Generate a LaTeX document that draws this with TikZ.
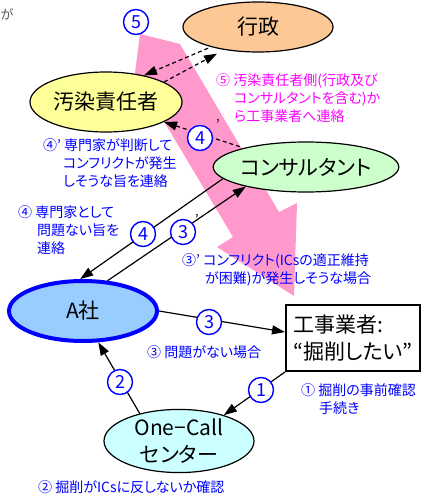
\documentclass[tikz,border=0pt]{standalone}
\usepackage{fontspec}
\setmainfont[RawFeature=+palt]{Noto Sans CJK JP}
\usetikzlibrary{shapes.geometric,arrows.meta}
\definecolor{bandpink}{HTML}{FF99CC}
\definecolor{govfill}{HTML}{FCC896}
\definecolor{polfill}{HTML}{FFFF99}
\definecolor{confill}{HTML}{CCFFCC}
\definecolor{afill}{HTML}{99CCFF}
\definecolor{ocfill}{HTML}{CCFFFF}
\definecolor{lblue}{HTML}{0000FF}
\definecolor{lmag}{HTML}{FF00FF}
\tikzset{
  ell/.style={ellipse, draw=black, line width=1.2pt, inner sep=0pt, font=\fontsize{21}{27}\selectfont, align=center},
  numc/.style={circle, draw=lblue, line width=1.4pt, fill=white, text=lblue, inner sep=0pt, minimum size=25pt, font=\fontsize{18}{18}\selectfont},
  primek/.style={inner sep=0pt, font=\fontsize{13}{13}\selectfont, text=black},
  lbl/.style={anchor=north west, inner sep=0pt, text=lblue, align=left, font=\fontsize{14}{18}\selectfont},
  conn/.style={line width=1.2pt, -{Triangle[length=13pt,width=9pt]}},
  dconn/.style={conn, dash pattern=on 4pt off 3pt}
}
\begin{document}
\begin{tikzpicture}[x=1pt,y=-1pt]
\useasboundingbox (0,0) rectangle (422,497);
% pink band arrow
\fill[bandpink] (140,34) -- (180,44) -- (279,212) -- (297,203) -- (294,296) -- (217,247) -- (233,237) -- (135,73) -- cycle;
% partial text at top-left
\node[anchor=west, inner sep=0pt, text=black!65, font=\fontsize{13}{13}\selectfont] (ga) at (0.5,14) {が};
% main nodes
\node[ell, fill=govfill, minimum width=150pt, minimum height=50pt] (gyosei) at (258,27) {行政};
\node[ell, fill=polfill, minimum width=152pt, minimum height=60pt] (osen) at (106,102) {汚染責任者};
\node[ell, fill=confill, minimum width=149pt, minimum height=50pt] (consul) at (306,167) {コンサルタント};
\node[ell, draw=lblue, line width=4pt, fill=afill, minimum width=148pt, minimum height=60pt] (asha) at (83,311) {A社};
\node[ell, fill=ocfill, minimum width=150pt, minimum height=58pt] (onecall) at (179,441) {One−Call\\センター};
\node[draw=black, line width=2pt, fill=white, minimum width=134pt, minimum height=66pt, inner sep=0pt, align=left, font=\fontsize{21}{27}\selectfont] (koji) at (353,338) {工事業者:\\“掘削したい”};
% connectors
\draw[dconn, shorten <=3pt] (gyosei.203) -- (osen.35);
\draw[dconn, shorten >=8pt] (osen.19) -- (gyosei.214);
\draw[dconn, shorten <=4pt] (consul.163) -- (osen.341);
\draw[conn] (consul.188) -- (asha.95);
\draw[conn] (asha.51) -- (consul.198);
\draw[conn] (asha.east) -- (koji.175);
\draw[conn] (onecall.145) -- (asha.296);
\draw[conn] (koji.south west) -- (onecall.30);
% numbered circles
\node[numc] (n5) at (136,22) {5};
\node[numc] (n4p) at (200,138) {4};
\node[primek] (n4pp) at (218,124) {’};
\node[numc] (n4) at (143,234) {4};
\node[numc] (n3p) at (183,232) {3};
\node[primek] (n3pp) at (197,219) {’};
\node[numc] (n3) at (209,322) {3};
\node[numc] (n2) at (120,382) {2};
\node[numc] (n1) at (261,390) {1};
% labels
\node[lbl] (l4p) at (43,138) {④’ 専門家が判断して\\\hspace*{20pt}コンフリクトが発生\\\hspace*{20pt}しそうな旨を連絡};
\node[lbl] (l4) at (18,205) {④ 専門家として\\\hspace*{19pt}問題ない旨を\\\hspace*{19pt}連絡};
\node[lbl, text=lmag] (l5) at (216,73) {⑤ 汚染責任者側(行政及び\\\hspace*{18pt}コンサルタントを含む)か\\\hspace*{18pt}ら工事業者へ連絡};
\node[lbl] (l3p) at (182,253) {③’ コンフリクト(ICsの適正維持\\\hspace*{23pt}が困難)が発生しそうな場合};
\node[lbl] (l3) at (147,345) {③ 問題がない場合};
\node[lbl] (l1) at (301,383) {① 掘削の事前確認\\\hspace*{18pt}手続き};
\node[lbl] (l2) at (38,480) {② 掘削がICsに反しないか確認};
\end{tikzpicture}
\end{document}
